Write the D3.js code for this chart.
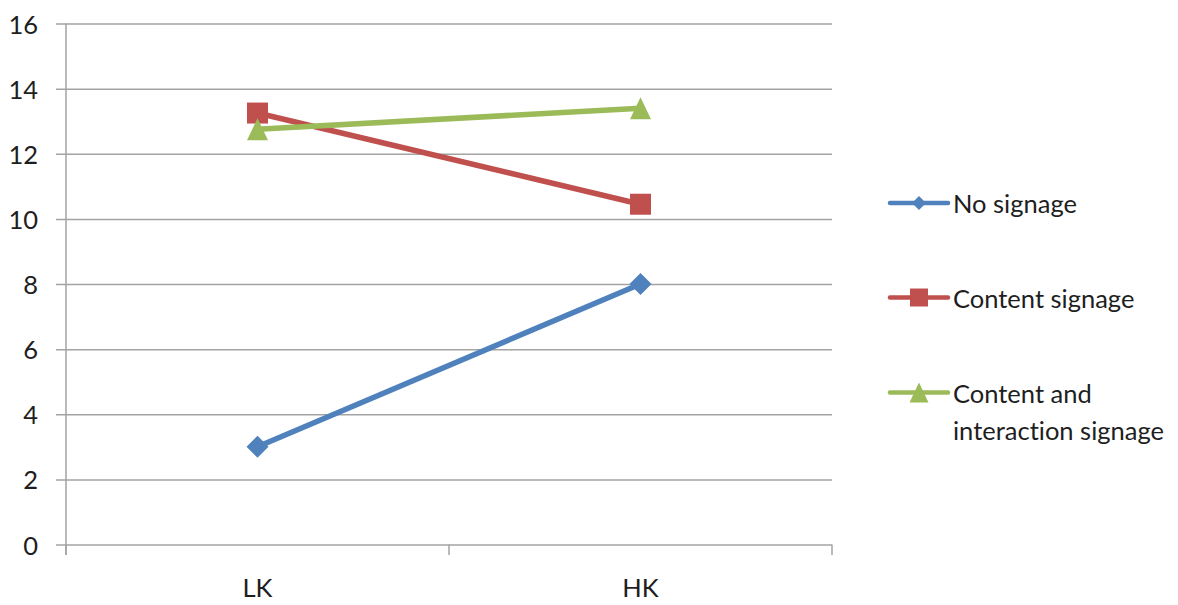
<!DOCTYPE html>
<html>
<head>
<meta charset="utf-8">
<script src="https://cdn.jsdelivr.net/npm/d3@7"></script>
<style>
  html, body { margin: 0; padding: 0; background: #fff; overflow: hidden; }
  svg { display: block; }
  text { font-family: Lato, "Open Sans", sans-serif; fill: #1e1e1e; font-variant-ligatures: none; }
</style>
</head>
<body>
<svg id="chart" width="1178" height="605"></svg>
<script>
// Knowledge level groups on the x axis
const categories = ["LK", "HK"];

// Series values per group
const noSignage = [3, 8];
const contentSignage = [13.25, 10.45];
const contentInteraction = [12.75, 13.4];

const seriesNames = ["No signage", "Content signage", "Content and interaction signage"];
const legendLines = [["No signage"], ["Content signage"], ["Content and", "interaction signage"]];

const yTicks = [0, 2, 4, 6, 8, 10, 12, 14, 16];

const colors = ["#4f81bd", "#c0504d", "#9bbb59"];
const shapes = ["diamond", "square", "triangle"];

const series = [noSignage, contentSignage, contentInteraction].map((values, i) => ({
  name: seriesNames[i],
  values: values.map((v, j) => ({ cat: categories[j], v })),
  color: colors[i],
  shape: shapes[i]
}));

const svg = d3.select("#chart");
const plot = { left: 66, right: 832, top: 23.5, bottom: 544.5 };

const x = d3.scaleBand().domain(categories).range([plot.left, plot.right]).padding(0);
const y = d3.scaleLinear().domain([0, 16]).range([plot.bottom, plot.top]);

const grid = "#a3a3a3";

// Horizontal gridlines with left tick marks
svg.append("g")
  .attr("transform", `translate(${plot.left},0)`)
  .call(d3.axisLeft(y).tickValues(yTicks).tickSize(-(plot.right - plot.left)).tickFormat(""))
  .call(g => g.select(".domain").remove())
  .call(g => g.selectAll("line").attr("stroke", grid).attr("stroke-width", 1.5)
    .attr("x1", -10).attr("x2", plot.right - plot.left));

// Y tick labels
svg.append("g")
  .selectAll("text")
  .data(yTicks)
  .join("text")
  .attr("x", 38)
  .attr("y", d => y(d))
  .attr("text-anchor", "end")
  .attr("dominant-baseline", "central")
  .attr("font-size", 25.5)
  .text(d => d);

// Vertical axis line
svg.append("line")
  .attr("x1", plot.left).attr("x2", plot.left)
  .attr("y1", plot.top).attr("y2", plot.bottom + 10.5)
  .attr("stroke", grid).attr("stroke-width", 1.5);

// Category axis: ticks at band boundaries
const bounds = [plot.left].concat(categories.map(c => x(c) + x.bandwidth()));
svg.append("g")
  .selectAll("line")
  .data(bounds)
  .join("line")
  .attr("x1", d => d).attr("x2", d => d)
  .attr("y1", plot.bottom).attr("y2", plot.bottom + 10.5)
  .attr("stroke", grid).attr("stroke-width", 1.5);

svg.append("g")
  .selectAll("text")
  .data(categories)
  .join("text")
  .attr("x", d => x(d) + x.bandwidth() / 2)
  .attr("y", 597)
  .attr("text-anchor", "middle")
  .attr("font-size", 25.5)
  .text(d => d);

// Marker path: diamond is a rotated square, triangle is equilateral-ish
function marker(shape, s) {
  const h = s / 2;
  if (shape === "diamond") return `M0,${-h}L${h},0L0,${h}L${-h},0Z`;
  if (shape === "square") return `M${-h},${-h}H${h}V${h}H${-h}Z`;
  return `M0,${-h * 1.05}L${h},${h * 1.05}L${-h},${h * 1.05}Z`;
}

// Series lines and markers
const line = d3.line()
  .x(d => x(d.cat) + x.bandwidth() / 2)
  .y(d => y(d.v));

const sg = svg.append("g").selectAll("g").data(series).join("g");

sg.append("path")
  .attr("d", d => line(d.values))
  .attr("fill", "none")
  .attr("stroke", d => d.color)
  .attr("stroke-width", 5.5)
  .attr("stroke-linejoin", "round");

const markerDim = { diamond: 22, square: 21, triangle: 21 };

sg.each(function (s) {
  d3.select(this).selectAll("path.marker")
    .data(s.values)
    .join("path")
    .attr("class", "marker")
    .attr("transform", d => `translate(${x(d.cat) + x.bandwidth() / 2},${y(d.v)})`)
    .attr("d", marker(s.shape, markerDim[s.shape]))
    .attr("fill", s.color);
});

// Legend
const legendY = [203, 297.5, 392.5];
const legendDim = { diamond: 14, square: 18, triangle: 19 };
const lg = svg.append("g").selectAll("g").data(series).join("g")
  .attr("transform", (d, i) => `translate(890,${legendY[i]})`);

lg.append("line")
  .attr("x1", 0).attr("x2", 58)
  .attr("y1", 0).attr("y2", 0)
  .attr("stroke", d => d.color)
  .attr("stroke-width", 4.5)
  .attr("stroke-linecap", "round");

lg.append("path")
  .attr("transform", "translate(29,0)")
  .attr("d", d => marker(d.shape, legendDim[d.shape]))
  .attr("fill", d => d.color);

lg.each(function (d, i) {
  d3.select(this).selectAll("text")
    .data(legendLines[i])
    .join("text")
    .attr("x", 63)
    .attr("y", (t, k) => k * 37.5)
    .attr("dominant-baseline", "central")
    .attr("font-size", 25.5)
    .text(t => t);
});
</script>
</body>
</html>
